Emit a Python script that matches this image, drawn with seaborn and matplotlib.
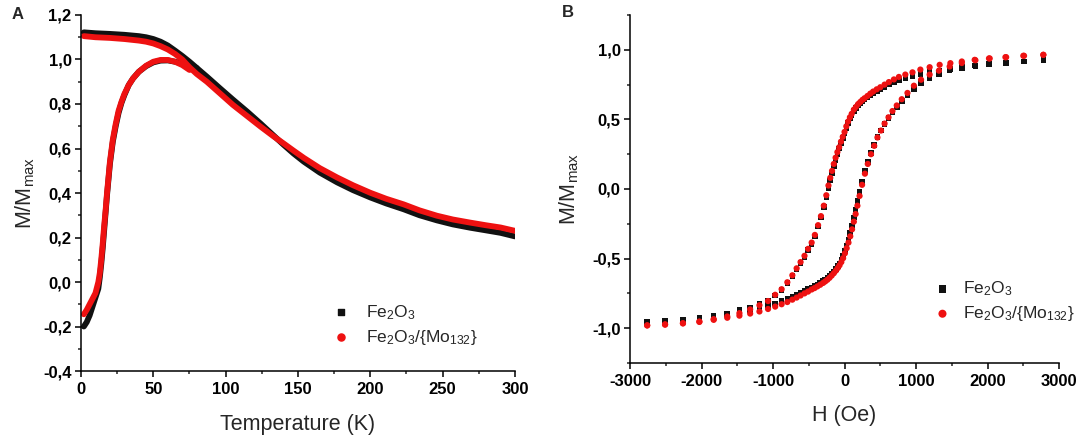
import matplotlib
matplotlib.use("Agg")
import matplotlib.pyplot as plt
import seaborn as sns
from matplotlib.ticker import MultipleLocator, FuncFormatter

# ---- panel A: M/Mmax vs temperature (ZFC and FC branches) ----
t_zfc_fe = [2, 4, 6, 8, 10, 12, 13, 14, 15, 16, 17, 18, 19, 20, 22, 24, 26, 28, 30,
            33, 36, 40, 45, 50, 55, 60, 65, 70, 75, 80]
m_zfc_fe = [-0.20, -0.18, -0.15, -0.11, -0.07, -0.03, 0.02, 0.08, 0.15, 0.23, 0.31, 0.39,
            0.46, 0.53, 0.63, 0.70, 0.76, 0.805, 0.84, 0.885, 0.915, 0.945, 0.97, 0.987,
            0.995, 0.996, 0.99, 0.982, 0.975, 0.962]

t_fc_fe = [2, 10, 20, 30, 40, 45, 50, 55, 60, 65, 70, 75, 80, 87, 96, 105, 115, 124, 133,
           140, 147, 154, 165, 177, 188, 200, 211, 223, 234, 246, 257, 269, 280, 290, 300]
m_fc_fe = [1.122, 1.118, 1.115, 1.111, 1.105, 1.10, 1.092, 1.08, 1.063, 1.04, 1.016, 0.99,
           0.962, 0.923, 0.871, 0.82, 0.765, 0.713, 0.659, 0.617, 0.577, 0.541, 0.492,
           0.448, 0.413, 0.38, 0.353, 0.327, 0.30, 0.277, 0.259, 0.244, 0.232, 0.221, 0.205]

t_zfc_mo = [2, 4, 6, 8, 10, 12, 13, 14, 15, 16, 17, 18, 19, 20, 21, 22, 24, 26, 28, 30,
            33, 36, 40, 45, 50, 55, 60, 65, 70, 75]
m_zfc_mo = [-0.145, -0.125, -0.10, -0.075, -0.05, 0.0, 0.04, 0.10, 0.17, 0.25, 0.32, 0.40,
            0.47, 0.54, 0.59, 0.64, 0.71, 0.77, 0.81, 0.845, 0.885, 0.915, 0.945, 0.972,
            0.99, 0.998, 0.998, 0.99, 0.975, 0.953]

t_fc_mo = [2, 10, 20, 30, 40, 45, 50, 55, 60, 65, 70, 75, 80, 87, 96, 105, 115, 124, 133,
           140, 147, 154, 165, 177, 188, 200, 211, 223, 234, 246, 257, 269, 280, 290, 300]
m_fc_mo = [1.105, 1.10, 1.097, 1.092, 1.085, 1.08, 1.072, 1.06, 1.045, 1.025, 1.0, 0.965,
           0.935, 0.90, 0.848, 0.796, 0.745, 0.699, 0.655, 0.623, 0.59, 0.558, 0.512,
           0.47, 0.435, 0.401, 0.374, 0.349, 0.322, 0.298, 0.281, 0.267, 0.255, 0.245, 0.23]

# ---- panel B: hysteresis loops ----
h_down = [2780, 2500, 2250, 2020, 1820, 1640, 1480, 1330, 1190, 1060, 950, 850, 760, 690,
          620, 560, 500, 450, 400, 360, 320, 280, 250, 220, 190, 160, 130, 100, 75, 50,
          25, 0, -25, -50, -75, -100, -125, -150, -175, -200, -225, -255, -290, -330,
          -370, -415, -460, -510, -560, -615, -670, -730, -800, -880, -970, -1070, -1190,
          -1320, -1470, -1640, -1830, -2030, -2260, -2510, -2760]
m_down_mo = [0.964, 0.957, 0.947, 0.938, 0.928, 0.916, 0.904, 0.892, 0.875, 0.858, 0.838,
             0.822, 0.805, 0.787, 0.768, 0.750, 0.731, 0.716, 0.700, 0.685, 0.668, 0.652,
             0.640, 0.625, 0.610, 0.590, 0.570, 0.540, 0.515, 0.485, 0.450, 0.410, 0.375,
             0.340, 0.300, 0.265, 0.225, 0.180, 0.130, 0.080, 0.025, -0.045, -0.12, -0.195,
             -0.26, -0.33, -0.385, -0.43, -0.48, -0.525, -0.57, -0.62, -0.67, -0.72, -0.76,
             -0.805, -0.835, -0.865, -0.892, -0.916, -0.935, -0.952, -0.964, -0.972, -0.98]
m_down_fe = [0.925, 0.915, 0.907, 0.898, 0.886, 0.875, 0.864, 0.852, 0.84, 0.826, 0.81,
             0.797, 0.782, 0.767, 0.75, 0.733, 0.716, 0.702, 0.687, 0.673, 0.658, 0.642,
             0.63, 0.615, 0.60, 0.58, 0.56, 0.53, 0.505, 0.475, 0.44, 0.40, 0.365, 0.328,
             0.29, 0.25, 0.21, 0.165, 0.115, 0.062, 0.005, -0.06, -0.13, -0.205, -0.27,
             -0.34, -0.395, -0.44, -0.488, -0.533, -0.578, -0.627, -0.675, -0.725, -0.765,
             -0.80, -0.828, -0.856, -0.87, -0.893, -0.912, -0.928, -0.94, -0.948, -0.955]

h_up = [-2760, -2510, -2260, -2030, -1830, -1640, -1470, -1320, -1190, -1070, -970, -880,
        -800, -730, -670, -615, -560, -510, -460, -420, -380, -340, -300, -270, -240, -210,
        -180, -150, -120, -95, -70, -45, -20, 5, 30, 55, 80, 105, 130, 155, 180, 210, 245,
        285, 325, 370, 415, 460, 510, 560, 615, 670, 730, 800, 880, 970, 1070, 1190, 1320,
        1470, 1640, 1830, 2030, 2260, 2510, 2780]
m_up_mo = [-0.98, -0.975, -0.966, -0.955, -0.94, -0.925, -0.91, -0.895, -0.88, -0.862,
           -0.845, -0.828, -0.812, -0.795, -0.78, -0.765, -0.75, -0.737, -0.722, -0.712,
           -0.70, -0.688, -0.675, -0.664, -0.652, -0.638, -0.622, -0.605, -0.586, -0.568,
           -0.548, -0.525, -0.497, -0.462, -0.425, -0.385, -0.34, -0.29, -0.235, -0.18,
           -0.12, -0.05, 0.03, 0.11, 0.18, 0.25, 0.31, 0.37, 0.42, 0.47, 0.515, 0.56, 0.60,
           0.645, 0.69, 0.742, 0.785, 0.822, 0.85, 0.88, 0.905, 0.925, 0.938, 0.947, 0.957,
           0.964]
m_up_fe = [-0.955, -0.95, -0.942, -0.932, -0.918, -0.902, -0.886, -0.87, -0.855, -0.838,
           -0.822, -0.806, -0.792, -0.777, -0.763, -0.748, -0.734, -0.72, -0.707, -0.697,
           -0.686, -0.675, -0.662, -0.652, -0.64, -0.627, -0.612, -0.594, -0.574, -0.555,
           -0.535, -0.51, -0.48, -0.445, -0.405, -0.362, -0.315, -0.262, -0.205, -0.148,
           -0.088, -0.02, 0.055, 0.13, 0.195, 0.26, 0.318, 0.372, 0.42, 0.465, 0.51, 0.552,
           0.59, 0.632, 0.675, 0.72, 0.76, 0.795, 0.825, 0.85, 0.87, 0.885, 0.897, 0.906,
           0.915, 0.925]

lab_fe = "Fe$_2$O$_3$"
lab_mo = "Fe$_2$O$_3$/{Mo$_{132}$}"

sns.set_style("ticks")
plt.rcParams["font.family"] = ["Liberation Sans", "DejaVu Sans"]
plt.rcParams["mathtext.default"] = "regular"
plt.rcParams["axes.unicode_minus"] = False
plt.rcParams["axes.linewidth"] = 1.1
plt.rcParams["axes.edgecolor"] = "black"

leg_font = {"size": 12.5, "weight": "normal"}


def comma(v, pos):
    s = "%.1f" % v
    if s == "-0.0":
        s = "0.0"
    return s.replace(".", ",")


def style_axis(ax):
    sns.despine(ax=ax)
    ax.tick_params(which="major", direction="out", length=4.3, width=1.1, pad=2.5,
                   labelsize=12, colors="black")
    ax.tick_params(which="minor", direction="out", length=2.4, width=1.1)
    ax.tick_params(axis="x", pad=3.5)


fig = plt.figure(figsize=(10.84, 4.41), dpi=100)
axA = fig.add_axes([0.0747, 0.1587, 0.4004, 0.8073])
axB = fig.add_axes([0.5812, 0.1769, 0.3958, 0.7891])

# panel A
black, red = "#111111", "#ee1111"
for tx, my, c in [(t_zfc_fe, m_zfc_fe, black), (t_fc_fe, m_fc_fe, black),
                  (t_zfc_mo, m_zfc_mo, red), (t_fc_mo, m_fc_mo, red)]:
    sns.lineplot(x=tx, y=my, ax=axA, color=c, lw=4.2, sort=False, estimator=None)
# legend proxies
axA.scatter([], [], marker="s", s=22, color=black, label=lab_fe)
axA.scatter([], [], marker="o", s=26, color=red, label=lab_mo)

axA.set_xlim(0, 300)
axA.set_ylim(-0.4, 1.2)
axA.xaxis.set_major_locator(MultipleLocator(50))
axA.xaxis.set_minor_locator(MultipleLocator(25))
axA.yaxis.set_major_locator(MultipleLocator(0.2))
axA.yaxis.set_minor_locator(MultipleLocator(0.1))
axA.yaxis.set_major_formatter(FuncFormatter(comma))
axA.set_xlabel("Temperature (K)", fontsize=15.5, labelpad=12)
axA.set_ylabel("M/M$_{max}$", fontsize=15.5, labelpad=4)
style_axis(axA)
axA.legend(loc="center left", bbox_to_anchor=(0.58, 0.13), frameon=False, prop=leg_font,
           handlelength=1.0, handletextpad=0.9, borderpad=0, borderaxespad=0,
           labelspacing=0.35)

# panel B
sns.scatterplot(x=h_down, y=m_down_fe, ax=axB, marker="s", s=16, color=black,
                edgecolor="none", label=lab_fe)
sns.scatterplot(x=h_up, y=m_up_fe, ax=axB, marker="s", s=16, color=black,
                edgecolor="none")
sns.scatterplot(x=h_down, y=m_down_mo, ax=axB, marker="o", s=20, color=red,
                edgecolor="none", label=lab_mo)
sns.scatterplot(x=h_up, y=m_up_mo, ax=axB, marker="o", s=20, color=red,
                edgecolor="none")
axB.set_xlim(-3000, 3000)
axB.set_ylim(-1.25, 1.25)
axB.xaxis.set_major_locator(MultipleLocator(1000))
axB.xaxis.set_minor_locator(MultipleLocator(500))
axB.yaxis.set_major_locator(MultipleLocator(0.5))
axB.yaxis.set_minor_locator(MultipleLocator(0.25))
axB.yaxis.set_major_formatter(FuncFormatter(comma))
axB.set_xlabel("H (Oe)", fontsize=15.5, labelpad=12)
axB.set_ylabel("M/M$_{max}$", fontsize=15.5, labelpad=8)
style_axis(axB)
axB.legend(loc="center left", bbox_to_anchor=(0.708, 0.177), frameon=False, prop=leg_font,
           handlelength=1.0, handletextpad=0.7, borderpad=0, borderaxespad=0,
           labelspacing=0.35, markerscale=1.3)

fig.text(0.011, 0.968, "A", fontsize=12, fontweight="bold", va="center")
fig.text(0.518, 0.972, "B", fontsize=12, fontweight="bold", va="center")

# bold tick labels (set after a draw so the final tick objects get it)
fig.canvas.draw()
for ax in (axA, axB):
    for lab in ax.get_xticklabels() + ax.get_yticklabels():
        lab.set_fontweight("bold")

fig.savefig("out.png", dpi=100)
